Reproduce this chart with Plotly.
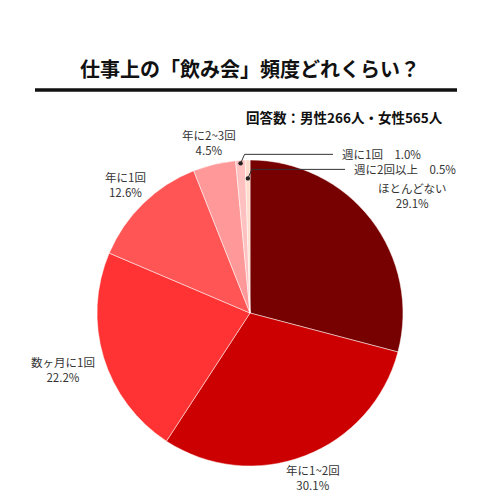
import math
import plotly.graph_objects as go

# 仕事上の飲み会の頻度（回答割合 %）
labels = ['ほとんどない', '年に1~2回', '数ヶ月に1回', '年に1回', '年に2~3回', '週に1回', '週に2回以上']
values = [29.1, 30.1, 22.2, 12.6, 4.5, 1.0, 0.5]
colors = ['#770000', '#cc0000', '#ff3333', '#ff5555', '#ff9999', '#ffc0c0', '#ffdccc']

title = '仕事上の「飲み会」頻度どれくらい？'
subtitle = '回答数：男性266人・女性565人'

# ページ余白(8px)を差し引いて配置する
OFF = 8
W = H = 484
cx, cy, R = 250, 313, 153
FONT = 'Noto Sans CJK JP'

# ラベルの中心までの距離(px)と角度の微調整(度)、小さい扇形は引き出し線
label_pos = {'ほとんどない': (200, 1.5), '年に1~2回': (176, 0), '数ヶ月に1回': (195, 0),
             '年に1回': (179, 0), '年に2~3回': (175, 0)}
callout = {'週に1回': dict(r=0.98, text_x=340, rise=9), '週に2回以上': dict(r=0.88, text_x=352, rise=9)}


def px(frac, r, ddeg=0):
    a = frac * 2 * math.pi + math.radians(ddeg)
    return cx + r * math.sin(a), cy - r * math.cos(a)


def paper(x, y):
    return (x - OFF) / W, 1 - (y - OFF) / H


x0d, y1d = paper(cx - R, cy - R)
x1d, y0d = paper(cx + R, cy + R)
fig = go.Figure(go.Pie(
    labels=labels, values=values, sort=False, direction='clockwise', rotation=0,
    marker=dict(colors=colors, line=dict(color='white', width=0.5)),
    textinfo='none', hoverinfo='label+percent',
    domain=dict(x=[x0d, x1d], y=[y0d, y1d]),
))

total = sum(values)
cum = 0
annotations = []
shapes = []
for lab, v in zip(labels, values):
    mid = (cum + v / 2) / total
    cum += v
    if lab in label_pos:
        d, dd = label_pos[lab]
        x, y = paper(*px(mid, d, dd))
        annotations.append(dict(x=x, y=y, xref='paper', yref='paper', showarrow=False,
                                xanchor='center', yanchor='middle',
                                text=f'{lab}<br>{v:.1f}%', align='center',
                                font=dict(size=11.5, color='#333', family=FONT)))
    else:
        c = callout[lab]
        dx, dy = px(mid, c['r'] * R)
        ex, ey = dx + 4, dy - c['rise']
        px0, py0 = paper(dx, dy)
        px1, py1 = paper(ex, ey)
        px2, _ = paper(c['text_x'] - 7, ey)
        shapes.append(dict(type='path', xref='paper', yref='paper',
                           path=f'M {px0} {py0} L {px1} {py1} L {px2} {py1}',
                           line=dict(color='#333', width=1)))
        r = 2.2 / W
        shapes.append(dict(type='circle', xref='paper', yref='paper',
                           x0=px0 - r, x1=px0 + r, y0=py0 - r, y1=py0 + r,
                           fillcolor='#222', line=dict(color='#222', width=0)))
        tx, _ = paper(c['text_x'], ey)
        annotations.append(dict(x=tx, y=py1, xref='paper', yref='paper', showarrow=False,
                                xanchor='left', yanchor='middle',
                                text=f'{lab}\u3000{v:.1f}%',
                                font=dict(size=11.5, color='#333', family=FONT)))

# タイトル・下線・回答数
tx, ty = paper(250, 68)
annotations.append(dict(x=tx, y=ty, xref='paper', yref='paper', showarrow=False,
                        xanchor='center', yanchor='middle',
                        text=f'<b>{title}</b>', font=dict(size=20, color='#111', family=FONT)))
lx0, ly = paper(35, 90)
lx1, _ = paper(457, 90)
shapes.append(dict(type='line', xref='paper', yref='paper', x0=lx0, x1=lx1,
                   y0=ly, y1=ly, line=dict(color='#111', width=3.5)))
sx, sy = paper(445, 117)
annotations.append(dict(x=sx, y=sy, xref='paper', yref='paper', showarrow=False,
                        xanchor='right', yanchor='middle', text=f'<b>{subtitle}</b>',
                        font=dict(size=13.5, color='#111', family=FONT)))

fig.update_layout(width=W, height=H, margin=dict(l=0, r=0, t=0, b=0),
                  paper_bgcolor='white', showlegend=False,
                  annotations=annotations, shapes=shapes)

fig.write_html('out.html')
